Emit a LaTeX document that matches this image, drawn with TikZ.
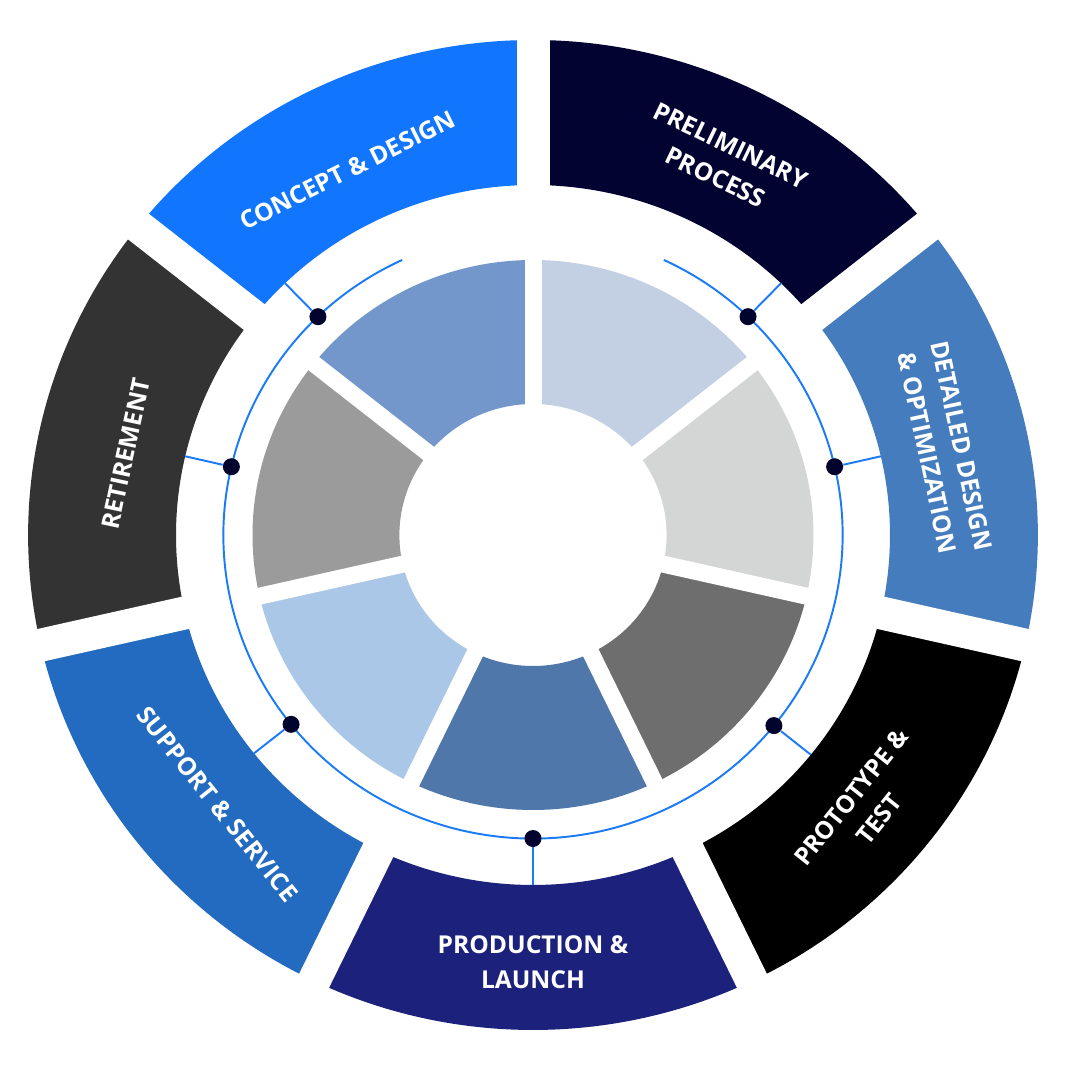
\documentclass[tikz,border=0pt]{standalone}
\usepackage{fontspec}
\setmainfont{Open Sans}

\definecolor{conceptblue}{HTML}{1175FE}
\definecolor{prelimnavy}{HTML}{020330}
\definecolor{detailblue}{HTML}{457CBD}
\definecolor{protoblack}{HTML}{000000}
\definecolor{prodnavy}{HTML}{1C217B}
\definecolor{supportblue}{HTML}{236BC0}
\definecolor{retiregray}{HTML}{333333}
\definecolor{innerA}{HTML}{C3D0E3}
\definecolor{innerB}{HTML}{D4D5D5}
\definecolor{innerC}{HTML}{6D6E6D}
\definecolor{innerD}{HTML}{4F77AA}
\definecolor{innerE}{HTML}{ABC7E7}
\definecolor{innerF}{HTML}{9B9B9B}
\definecolor{innerG}{HTML}{7397CA}
\definecolor{linkblue}{HTML}{1A7BF4}
\definecolor{hubnavy}{HTML}{03042E}

\begin{document}
\begin{tikzpicture}[
    phase/.style={text=white,align=center,font=\fontsize{14}{20}\selectfont\bfseries},
    hub/.style={circle,fill=hubnavy,inner sep=0pt,minimum size=0.34cm},
    link/.style={linkblue,line width=1.1pt},
    outergap/.style={white,line width=0.66cm},
    innergap/.style={white,line width=0.34cm}]
  \fill[white] (-10.66,-10.72) rectangle (10.66,10.70);
  \useasboundingbox (-10.66,-10.72) rectangle (10.66,10.70);
  \begin{scope}[xscale=1.02]
    % outer ring, one sector per phase
    \fill[prelimnavy] (38.57:7) arc[start angle=38.57,end angle=90,radius=7] -- (90:9.9) arc[start angle=90,end angle=38.57,radius=9.9] -- cycle;
    \fill[conceptblue] (90:7) arc[start angle=90,end angle=141.43,radius=7] -- (141.43:9.9) arc[start angle=141.43,end angle=90,radius=9.9] -- cycle;
    \fill[retiregray] (141.43:7) arc[start angle=141.43,end angle=192.86,radius=7] -- (192.86:9.9) arc[start angle=192.86,end angle=141.43,radius=9.9] -- cycle;
    \fill[supportblue] (192.86:7) arc[start angle=192.86,end angle=244.29,radius=7] -- (244.29:9.9) arc[start angle=244.29,end angle=192.86,radius=9.9] -- cycle;
    \fill[prodnavy] (244.29:7) arc[start angle=244.29,end angle=295.71,radius=7] -- (295.71:9.9) arc[start angle=295.71,end angle=244.29,radius=9.9] -- cycle;
    \fill[protoblack] (295.71:7) arc[start angle=295.71,end angle=347.14,radius=7] -- (347.14:9.9) arc[start angle=347.14,end angle=295.71,radius=9.9] -- cycle;
    \fill[detailblue] (-12.86:7) arc[start angle=-12.86,end angle=38.57,radius=7] -- (38.57:9.9) arc[start angle=38.57,end angle=-12.86,radius=9.9] -- cycle;
    % inner ring
    \fill[innerA] (38.57:2.62) arc[start angle=38.57,end angle=90,radius=2.62] -- (90:5.5) arc[start angle=90,end angle=38.57,radius=5.5] -- cycle;
    \fill[innerG] (90:2.62) arc[start angle=90,end angle=141.43,radius=2.62] -- (141.43:5.5) arc[start angle=141.43,end angle=90,radius=5.5] -- cycle;
    \fill[innerF] (141.43:2.62) arc[start angle=141.43,end angle=192.86,radius=2.62] -- (192.86:5.5) arc[start angle=192.86,end angle=141.43,radius=5.5] -- cycle;
    \fill[innerE] (192.86:2.62) arc[start angle=192.86,end angle=244.29,radius=2.62] -- (244.29:5.5) arc[start angle=244.29,end angle=192.86,radius=5.5] -- cycle;
    \fill[innerD] (244.29:2.62) arc[start angle=244.29,end angle=295.71,radius=2.62] -- (295.71:5.5) arc[start angle=295.71,end angle=244.29,radius=5.5] -- cycle;
    \fill[innerC] (295.71:2.62) arc[start angle=295.71,end angle=347.14,radius=2.62] -- (347.14:5.5) arc[start angle=347.14,end angle=295.71,radius=5.5] -- cycle;
    \fill[innerB] (-12.86:2.62) arc[start angle=-12.86,end angle=38.57,radius=2.62] -- (38.57:5.5) arc[start angle=38.57,end angle=-12.86,radius=5.5] -- cycle;
    % gaps between sectors
    \draw[outergap] (90:6.8) -- (90:10.1);
    \draw[outergap] (141.43:6.8) -- (141.43:10.1);
    \draw[outergap] (192.86:6.8) -- (192.86:10.1);
    \draw[outergap] (244.29:6.8) -- (244.29:10.1);
    \draw[outergap] (295.71:6.8) -- (295.71:10.1);
    \draw[outergap] (347.14:6.8) -- (347.14:10.1);
    \draw[outergap] (38.57:6.8) -- (38.57:10.1);
    \draw[innergap] (90:2.5) -- (90:5.6);
    \draw[innergap] (141.43:2.5) -- (141.43:5.6);
    \draw[innergap] (192.86:2.5) -- (192.86:5.6);
    \draw[innergap] (244.29:2.5) -- (244.29:5.6);
    \draw[innergap] (295.71:2.5) -- (295.71:5.6);
    \draw[innergap] (347.14:2.5) -- (347.14:5.6);
    \draw[innergap] (38.57:2.5) -- (38.57:5.6);
    % timeline circle
    \draw[link] (115:6.07) arc[start angle=115,end angle=425,radius=6.07];
    % hubs on the circle
    \node[hub] (hubPrelim) at (46:6.07) {};
    \node[hub] (hubConcept) at (134:6.07) {};
    \node[hub] (hubRetire) at (167:6.07) {};
    \node[hub] (hubSupport) at (218.6:6.07) {};
    \node[hub] (hubProd) at (270:6.07) {};
    \node[hub] (hubProto) at (321.1:6.07) {};
    \node[hub] (hubDetail) at (13:6.07) {};
    % ends on the outer ring
    \coordinate (tipPrelim) at (46:7);
    \coordinate (tipConcept) at (134:7);
    \coordinate (tipRetire) at (167:7);
    \coordinate (tipSupport) at (218.6:7);
    \coordinate (tipProd) at (270:7);
    \coordinate (tipProto) at (321.1:7);
    \coordinate (tipDetail) at (13:7);
    \draw[link] (hubPrelim) -- (tipPrelim);
    \draw[link] (hubConcept) -- (tipConcept);
    \draw[link] (hubRetire) -- (tipRetire);
    \draw[link] (hubSupport) -- (tipSupport);
    \draw[link] (hubProd) -- (tipProd);
    \draw[link] (hubProto) -- (tipProto);
    \draw[link] (hubDetail) -- (tipDetail);
    % phase labels
    \node[phase,rotate=26.5] (concept) at (116.5:8.15) {CONCEPT \& DESIGN};
    \node[phase,rotate=-25.7] (prelim) at (63.5:8.35) {PRELIMINARY\\PROCESS};
    \node[phase,rotate=-78] (detail) at (12:8.25) {DETAILED DESIGN\\\& OPTIMIZATION};
    \node[phase,rotate=78] (retire) at (168.5:8.15) {RETIREMENT};
    \node[phase,rotate=-51.4] (support) at (221:8.2) {SUPPORT \& SERVICE};
    \node[phase] (prod) at (270:8.55) {PRODUCTION \&\\LAUNCH};
    \node[phase,rotate=51.4] (proto) at (-40:8.5) {PROTOTYPE \&\\TEST};
  \end{scope}
\end{tikzpicture}
\end{document}
